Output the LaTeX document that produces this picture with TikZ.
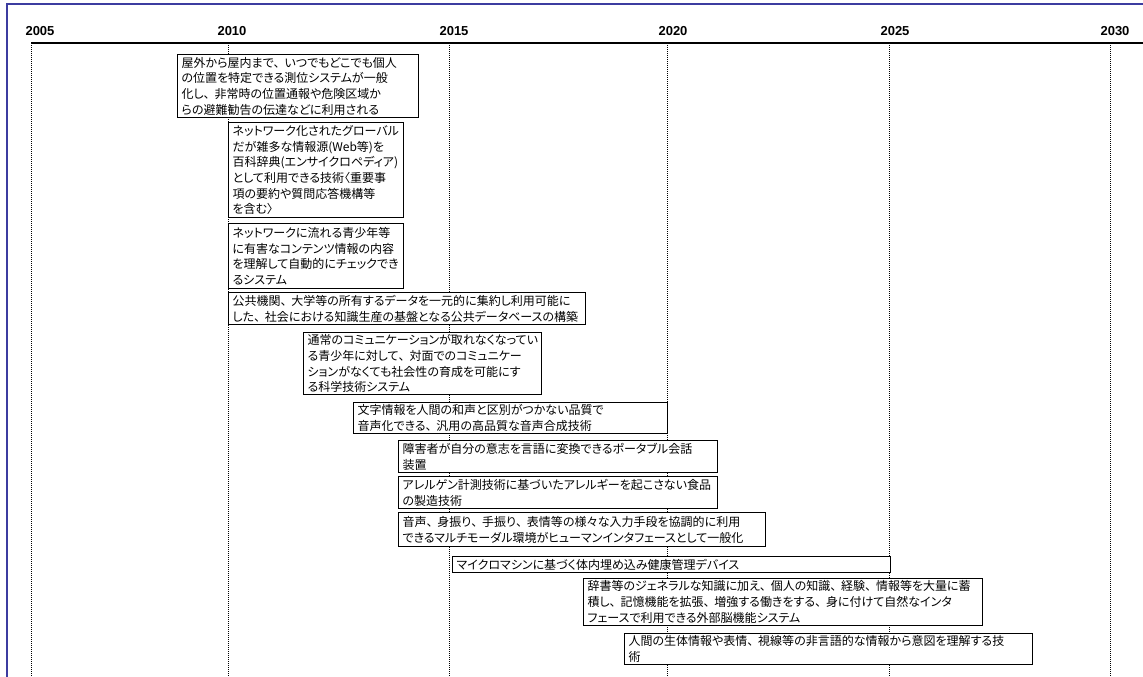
\documentclass[tikz,border=0pt]{standalone}
\usepackage{fontspec}
\setmainfont{Liberation Sans}
\newfontfamily\jpfont[RawFeature=+palt]{Noto Sans CJK JP}
\definecolor{framecol}{RGB}{60,60,160}
% wide ideographic comma inside proportional text
\newcommand\tk{\makebox[0.9em][l]{、}}
\begin{document}
\begin{tikzpicture}[x=1pt,y=-1pt,
  frameline/.style={draw=framecol,line width=2.5pt},
  axisline/.style={draw=black,line width=1.3pt},
  yearline/.style={draw=black,line width=0.9pt,dash pattern=on 1pt off 1pt},
  yearlabel/.style={anchor=base,inner sep=0pt,font=\bfseries\fontsize{13}{13}\selectfont},
  tbox/.style={draw=black,fill=white,line width=1.2pt,anchor=north west,
    inner xsep=4pt,inner ysep=0pt,align=left,
    font=\jpfont\fontsize{12}{15.7}\selectfont}]
\useasboundingbox (0,0) rectangle (1143,677);
\fill[white] (0,0) rectangle (1143,677);

% outer frame (left and top edges)
\draw[frameline] (7,677) -- (7,4) -- (1143,4);

% time axis
\coordinate (axL) at (31,43);
\coordinate (axR) at (1143,43);
\draw[axisline] (axL) -- (axR);

% year ticks and labels
\foreach \yr/\xx/\lx in {2005/31/40,2010/228/232,2015/449/454,2020/667/673,2025/889/895,2030/1110/1115}{
  \coordinate (t\yr) at (\xx,43);
  \coordinate (b\yr) at (\xx,677);
  \draw[yearline] (t\yr) -- (b\yr);
  \node[yearlabel] (y\yr) at (\lx,36) {\yr};
}

% technology items
\node[tbox,text width=233pt,minimum height=63pt] (b1) at (177,54)
 {屋外から屋内まで\tk いつでもどこでも個人\\の位置を特定できる測位システムが一般\\化し\tk 非常時の位置通報や危険区域か\\らの避難勧告の伝達などに利用される};
\node[tbox,text width=167pt,minimum height=95pt] (b2) at (228,122)
 {ネットワーク化されたグローバル\\だが雑多な情報源(Web等)を\\百科辞典(エンサイクロペディア)\\として利用できる技術〈重要事\\項の要約や質問応答機構等\\を含む〉};
\node[tbox,text width=167pt,minimum height=65pt] (b3) at (228,223)
 {ネットワークに流れる青少年等\\に有害なコンテンツ情報の内容\\を理解して自動的にチェックでき\\るシステム};
\node[tbox,text width=349pt,minimum height=32pt] (b4) at (228,292)
 {公共機関\tk 大学等の所有するデータを一元的に集約し利用可能に\\した\tk 社会における知識生産の基盤となる公共データベースの構築};
\node[tbox,text width=230pt,minimum height=62pt] (b5) at (303,332)
 {通常のコミュニケーションが取れなくなってい\\る青少年に対して\tk 対面でのコミュニケー\\ションがなくても社会性の育成を可能にす\\る科学技術システム};
\node[tbox,text width=306pt,minimum height=31pt] (b6) at (353,402)
 {文字情報を人間の和声と区別がつかない品質で\\音声化できる\tk 汎用の高品質な音声合成技術};
\node[tbox,text width=311pt,minimum height=32pt] (b7) at (398,440)
 {障害者が自分の意志を言語に変換できるポータブル会話\\装置};
\node[tbox,text width=311pt,minimum height=32pt] (b8) at (398,476)
 {アレルゲン計測技術に基づいたアレルギーを起こさない食品\\の製造技術};
\node[tbox,text width=359pt,minimum height=34pt] (b9) at (398,512)
 {音声\tk 身振り\tk 手振り\tk 表情等の様々な入力手段を協調的に利用\\できるマルチモーダル環境がヒューマンインタフェースとして一般化};
\node[tbox,text width=430pt,minimum height=16pt] (b10) at (452,556)
 {マイクロマシンに基づく体内埋め込み健康管理デバイス};
\node[tbox,text width=391pt,minimum height=47pt] (b11) at (583,578)
 {辞書等のジェネラルな知識に加え\tk 個人の知識\tk 経験\tk 情報等を大量に蓄\\積し\tk 記憶機能を拡張\tk 増強する働きをする\tk 身に付けて自然なインタ\\フェースで利用できる外部脳機能システム};
\node[tbox,text width=400pt,minimum height=31pt] (b12) at (624,633)
 {人間の生体情報や表情\tk 視線等の非言語的な情報から意図を理解する技\\術};
\end{tikzpicture}
\end{document}
